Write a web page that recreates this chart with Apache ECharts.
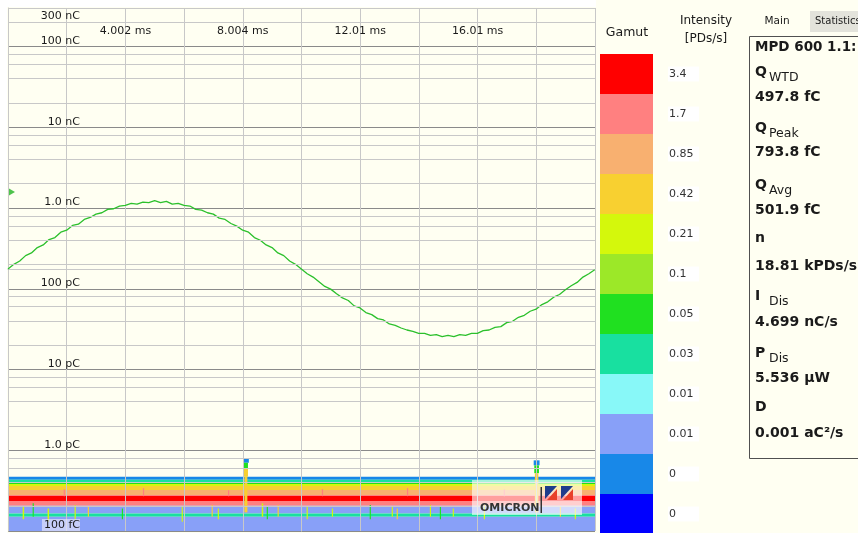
<!DOCTYPE html>
<html><head><meta charset="utf-8">
<script src="https://cdn.jsdelivr.net/npm/echarts@6/dist/echarts.min.js"></script>
<style>html,body{margin:0;padding:0;background:#fffff2;}#c{width:858px;height:533px;}</style>
</head><body><div id="c"></div>
<script>
// ---- data ----
const xTickLabels = ['', '', '4.002 ms', '', '8.004 ms', '', '12.01 ms', '', '16.01 ms', '', ''];
const yTickValues = [0.1, 1, 10, 100, 1000, 10000, 100000];           // pC
const yTickLabels = ['100 fC', '1.0 pC', '10 pC', '100 pC', '1.0 nC', '10 nC', '100 nC'];
const yTopLabel = '300 nC';
const minorSteps = [2, 4, 6, 8];

// reference voltage trace (arbitrary units), phase in ms
const phaseMs = [0,0.2,0.4,0.6,0.8,1,1.2,1.4,1.6,1.8,2,2.2,2.4,2.6,2.8,3,3.2,3.4,3.6,3.8,4,4.2,4.4,4.6,4.8,5,5.2,5.4,5.6,5.8,6,6.2,6.4,6.6,6.8,7,7.2,7.4,7.6,7.8,8,8.2,8.4,8.6,8.8,9,9.2,9.4,9.6,9.8,10,10.2,10.4,10.6,10.8,11,11.2,11.4,11.6,11.8,12,12.2,12.4,12.6,12.8,13,13.2,13.4,13.6,13.8,14,14.2,14.4,14.6,14.8,15,15.2,15.4,15.6,15.8,16,16.2,16.4,16.6,16.8,17,17.2,17.4,17.6,17.8,18,18.2,18.4,18.6,18.8,19,19.2,19.4,19.6,19.8,20];
const voltage = [0.00,0.07,0.12,0.20,0.24,0.32,0.36,0.44,0.47,0.55,0.58,0.65,0.67,0.74,0.77,0.82,0.84,0.89,0.90,0.94,0.95,0.98,0.97,1.00,0.99,1.02,0.99,1.01,0.97,0.98,0.95,0.94,0.89,0.88,0.84,0.82,0.76,0.74,0.68,0.64,0.58,0.55,0.47,0.43,0.36,0.32,0.24,0.20,0.12,0.07,0.00,-0.07,-0.12,-0.19,-0.26,-0.30,-0.37,-0.43,-0.47,-0.55,-0.58,-0.65,-0.68,-0.74,-0.76,-0.82,-0.84,-0.88,-0.91,-0.93,-0.96,-0.96,-0.99,-0.98,-1.01,-0.99,-1.01,-0.98,-0.99,-0.96,-0.96,-0.92,-0.91,-0.87,-0.86,-0.80,-0.78,-0.72,-0.69,-0.63,-0.60,-0.53,-0.49,-0.42,-0.38,-0.31,-0.25,-0.20,-0.12,-0.07,-0.01];

// trigger level marker [phase ms, charge pC]
const triggerLevel = [[0, 1580]];

// PRPD band rows: [qLow pC, qHigh pC, intensity PDs/s] (uniform over phase)
const bandLow  = [0.430, 0.405, 0.382, 0.361, 0.322, 0.280, 0.271, 0.235, 0.205, 0.165, 0.150, 0.100];
const bandHigh = [0.470, 0.430, 0.405, 0.382, 0.361, 0.322, 0.280, 0.271, 0.235, 0.205, 0.165, 0.150];
const bandRate = [0.004, 0.04, 0.07, 0.25, 0.5, 1.0, 2.0, 4.0, 2.0, 0.008, 0.04, 0.008];
// discharge clusters: [phaseStart, phaseEnd, qLow, qHigh, intensity]
const clusters = [
  [8.01, 8.21, 0.70, 0.80, 0.004], [8.04, 8.18, 0.60, 0.70, 0.07], [8.04, 8.18, 0.47, 0.60, 0.5], [8.06, 8.16, 0.17, 0.47, 0.6],
  [17.92, 18.12, 0.65, 0.75, 0.004], [17.94, 18.10, 0.52, 0.65, 0.07], [17.96, 18.08, 0.17, 0.52, 0.5]
];
// thin phase streaks: [phaseStart, phaseEnd, qLow, qHigh, intensity]
const streaks = [
  [0.50,0.55,0.14,0.20,0.25],[0.84,0.88,0.15,0.22,0.07],[1.35,1.40,0.13,0.19,0.25],[2.27,2.31,0.14,0.21,0.25],
  [2.72,2.76,0.15,0.20,0.5],[3.88,3.92,0.14,0.19,0.07],[5.92,5.96,0.13,0.20,0.25],[6.94,6.98,0.15,0.21,0.5],
  [7.15,7.19,0.14,0.19,0.25],[8.65,8.70,0.15,0.22,0.25],[8.82,8.86,0.14,0.20,0.07],[9.19,9.23,0.15,0.21,0.5],
  [10.18,10.22,0.14,0.20,0.25],[11.04,11.08,0.15,0.19,0.25],[12.33,12.37,0.14,0.21,0.07],[13.08,13.12,0.15,0.20,0.25],
  [13.25,13.29,0.14,0.19,0.5],[14.38,14.42,0.15,0.21,0.25],[14.72,14.76,0.14,0.20,0.07],[15.16,15.20,0.15,0.19,0.25],
  [16.22,16.26,0.14,0.21,0.25],[18.81,18.85,0.15,0.20,0.5],[19.32,19.36,0.14,0.19,0.25],
  [1.90,1.94,0.27,0.33,2],[4.60,4.64,0.27,0.34,2],[7.50,7.54,0.27,0.32,2],[10.70,10.74,0.27,0.33,2],[13.60,13.64,0.27,0.34,2],[16.90,16.94,0.27,0.33,2]
];

// gamut legend
const gamutLabels = ['3.4','1.7','0.85','0.42','0.21','0.1','0.05','0.03','0.01','0.01','0','0'];
const gamutMin = [3.4, 1.7, 0.85, 0.425, 0.2125, 0.106, 0.053, 0.0266, 0.0133, 0.0066, 0.0033, 0];
const gamutColors = ['#ff0000','#ff8080','#f8b070','#f8d030','#d4f80c','#9ce828','#20e020','#18e0a0','#88f8f8','#88a0f8','#1888e8','#0000ff'];

// statistics
const statNames = ['Q|WTD','Q|Peak','Q|Avg','n|','I|Dis','P|Dis','D|'];
const statValues = ['497.8 fC','793.8 fC','501.9 fC','18.81 kPDs/s','4.699 nC/s','5.536 µW','0.001 aC²/s'];

// ---- build ----
const X_MAX = 20.01;
const cells = [];
bandLow.forEach((lo, i) => cells.push([0, X_MAX, lo, bandHigh[i], bandRate[i]]));
clusters.forEach(c => cells.push(c));
streaks.forEach(s => cells.push(s));

const minorLines = [];
yTickValues.slice(0, -1).forEach(d => minorSteps.forEach(m => minorLines.push({yAxis: d * m})));
minorLines.push({yAxis: yTickValues[yTickValues.length - 1] * 2});

const pieces = gamutLabels.map((l, i) => {
  const p = {min: gamutMin[i], label: l, color: gamutColors[i]};
  if (i > 0) p.max = gamutMin[i - 1];
  return p;
});

const FONT = 'DejaVu Sans';
const txt = (text, x, y, o = {}) => ({
  type: 'text', x, y, silent: true, z: 100,
  style: Object.assign({text, fill: '#1a1a1a', fontFamily: FONT, fontSize: 11,
    align: 'left', verticalAlign: 'middle', textAlign: 'left', textVerticalAlign: 'middle'}, o)
});

const statY = [[72, 97], [128, 152], [185, 210], [238, 266], [296, 322], [353, 378], [407, 433]];
const graphics = [
  {type: 'rect', shape: {x: 0, y: 0, width: 596, height: 7}, style: {fill: '#ffffff'}, z: -10, silent: true},
  {type: 'rect', shape: {x: 0, y: 0, width: 7, height: 533}, style: {fill: '#ffffff'}, z: -10, silent: true},
  txt('Gamut', 627, 33, {fontSize: 12.5, align: 'center', textAlign: 'center'}),
  txt('Intensity', 706, 21, {fontSize: 12, align: 'center', textAlign: 'center'}),
  txt('[PDs/s]', 706, 39, {fontSize: 12, align: 'center', textAlign: 'center'}),
  txt('Main', 777, 21, {fontSize: 10.5, align: 'center', textAlign: 'center'}),
  {type: 'rect', shape: {x: 810, y: 11, width: 50, height: 21}, style: {fill: '#e3e3db'}, z: 90, silent: true},
  txt('Statistics', 815, 21, {fontSize: 10}),
  {type: 'rect', shape: {x: 749.5, y: 36.5, width: 130, height: 422}, style: {fill: 'none', stroke: '#505050', lineWidth: 1}, z: 90, silent: true},
  txt('MPD 600 1.1:', 755, 47, {fontSize: 13.5, fontWeight: 'bold'}),
  // OMICRON logo
  {type: 'rect', shape: {x: 472, y: 480, width: 110, height: 35}, style: {fill: 'rgba(255,255,255,0.62)'}, z: 50, silent: true},
  txt('OMICRON', 480, 508, {fontSize: 11, fontWeight: 'bold', fill: '#333333'}),
  {type: 'rect', shape: {x: 540.5, y: 487, width: 1.5, height: 26}, style: {fill: '#333333'}, z: 100, silent: true},
  {type: 'polygon', shape: {points: [[545,486],[557,486],[545,499]]}, style: {fill: '#1f3c8c'}, z: 100, silent: true},
  {type: 'polygon', shape: {points: [[557,489],[557,500],[547,500]]}, style: {fill: '#e8402a'}, z: 100, silent: true},
  {type: 'polygon', shape: {points: [[561,486],[573,486],[561,499]]}, style: {fill: '#1f3c8c'}, z: 100, silent: true},
  {type: 'polygon', shape: {points: [[573,489],[573,500],[563,500]]}, style: {fill: '#e8402a'}, z: 100, silent: true}
];
statNames.forEach((n, i) => {
  const [sym, sub] = n.split('|');
  graphics.push(txt(sym, 755, statY[i][0], {fontSize: 14, fontWeight: 'bold'}));
  if (sub) graphics.push(txt(sub, 769, statY[i][0] + 6, {fontSize: 12.5}));
  graphics.push(txt(statValues[i], 755, statY[i][1], {fontSize: 14, fontWeight: 'bold'}));
});

const chart = echarts.init(document.getElementById('c'), null, {renderer: 'canvas'});
chart.setOption({
  backgroundColor: '#fffff2',
  animation: false,
  grid: {left: 8, right: 263, top: 8, bottom: 2, containLabel: false},
  xAxis: {
    type: 'value', position: 'top', min: 0, max: X_MAX, interval: 2.001,
    axisLine: {show: true, lineStyle: {color: '#c8c8c8'}}, axisTick: {show: false},
    splitLine: {show: true, lineStyle: {color: '#c8c8c8', width: 1}},
    axisLabel: {inside: true, margin: 18, color: '#1a1a1a', fontSize: 11, fontFamily: FONT,
      showMinLabel: true, showMaxLabel: true, formatter: (v, i) => xTickLabels[i] || ''}
  },
  yAxis: [
    {type: 'log', logBase: 10, min: 0.1, max: 300000, position: 'left',
      axisLine: {show: true, lineStyle: {color: '#c8c8c8'}}, axisTick: {show: false},
      splitLine: {show: true, lineStyle: {color: ['#8a8a8a','#8a8a8a','#8a8a8a','#8a8a8a','#8a8a8a','#8a8a8a','#8a8a8a','#c8c8c8'], width: 1}},
      axisLabel: {inside: true, align: 'right', verticalAlign: 'bottom', margin: 72, color: '#1a1a1a', fontSize: 11, fontFamily: FONT,
        showMinLabel: true, showMaxLabel: false,
        rich: {b: {backgroundColor: 'rgba(225,225,250,0.7)', fontSize: 11, fontFamily: FONT, color: '#1a1a1a', padding: [1, 0, 0, 2]}},
        formatter: v => {
          const i = yTickValues.findIndex(t => Math.abs(Math.log10(v) - Math.log10(t)) < 0.01);
          if (i < 0) return '';
          return i === 0 ? '{b|' + yTickLabels[i] + '}' : yTickLabels[i];
        }}},
    {type: 'log', logBase: 10, min: 0.1, max: 300000, position: 'left',
      axisLine: {show: false}, axisTick: {show: false}, splitLine: {show: false},
      axisLabel: {inside: true, align: 'right', verticalAlign: 'top', margin: 72, color: '#1a1a1a', fontSize: 11, fontFamily: FONT,
        padding: [3, 0, 0, 0], showMinLabel: false, showMaxLabel: true, formatter: v => v > 250000 ? yTopLabel : ''}},
    {type: 'value', min: -3.91, max: 3.896, show: false}
  ],
  visualMap: {
    type: 'piecewise', seriesIndex: 1, dimension: 4, pieces, align: 'left',
    orient: 'vertical', left: 600, top: 54, padding: 0,
    itemWidth: 53, itemHeight: 40, itemGap: 0, itemSymbol: 'rect', textGap: 15,
    selectedMode: false, hoverLink: false,
    textStyle: {color: '#333333', fontSize: 11, fontFamily: FONT, backgroundColor: '#ffffff', padding: [2, 2, 2, 1], width: 28}
  },
  graphic: graphics,
  series: [
    {type: 'line', data: [[0, 1]], yAxisIndex: 0, z: -3, showSymbol: false, lineStyle: {opacity: 0}, silent: true,
      markLine: {silent: true, symbol: 'none', label: {show: false}, animation: false,
        lineStyle: {color: '#c8c8c8', type: 'solid', width: 1}, data: minorLines}},
    {type: 'custom', yAxisIndex: 0, z: -1, clip: true, silent: true, data: cells, encode: {x: [0, 1], y: [2, 3]},
      renderItem: (params, api) => {
        const p0 = api.coord([api.value(0), api.value(3)]);
        const p1 = api.coord([api.value(1), api.value(2)]);
        return {type: 'rect', shape: {x: p0[0], y: p0[1], width: p1[0] - p0[0], height: p1[1] - p0[1]},
          style: {fill: api.visual('color')}};
      }},
    {type: 'line', yAxisIndex: 2, z: 3, silent: true, showSymbol: false,
      data: phaseMs.map((t, i) => [t, voltage[i]]), lineStyle: {color: '#2cc02c', width: 1.3}},
    {type: 'scatter', yAxisIndex: 0, z: 4, silent: true, data: triggerLevel, symbol: 'triangle', symbolRotate: -90,
      symbolSize: [7, 6], symbolOffset: [4, 0], itemStyle: {color: '#22b422'}}
  ]
});
</script></body></html>
